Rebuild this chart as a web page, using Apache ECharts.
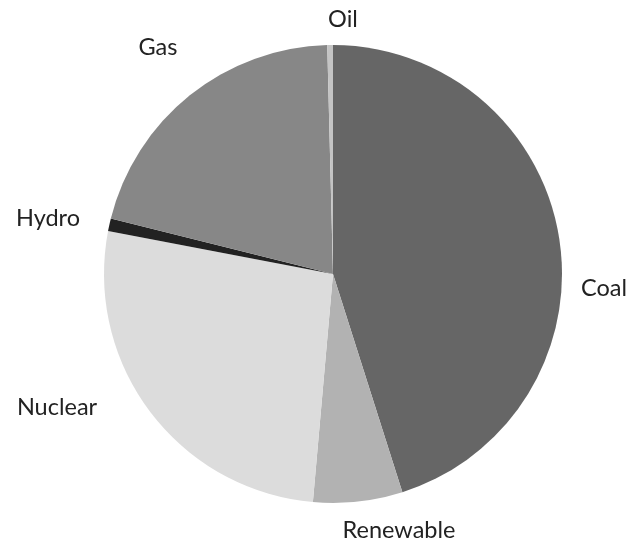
<!DOCTYPE html>
<html>
<head>
<meta charset="utf-8">
<script src="https://cdn.jsdelivr.net/npm/echarts@6/dist/echarts.min.js"></script>
<style>html,body{margin:0;padding:0;background:#fff;}#c{width:644px;height:541px;}</style>
</head>
<body>
<div id="c"></div>
<script>
var categories = ['Coal', 'Renewable', 'Nuclear', 'Hydro', 'Gas', 'Oil'];
var values = [45.1, 6.3, 26.6, 0.9, 20.7, 0.4];
var colors = ['#666666', '#b2b2b2', '#dcdcdc', '#222222', '#878787', '#c4c4c4'];
// label centres (layout only)
var labelPos = [[604, 288], [399, 530], [57, 407], [48, 218], [158, 47], [343, 19]];

var chart = echarts.init(document.getElementById('c'), null, {renderer: 'canvas'});
chart.setOption({
  animation: false,
  series: [{
    type: 'pie',
    center: [333, 274],
    radius: 229,
    startAngle: 90,
    clockwise: true,
    avoidLabelOverlap: false,
    data: categories.map(function (c, i) {
      return {name: c, value: values[i], itemStyle: {color: colors[i]}};
    }),
    label: {
      show: true,
      position: 'outside',
      formatter: '{b}',
      fontFamily: 'Lato',
      fontSize: 23.5,
      color: '#222'
    },
    labelLine: {show: false},
    labelLayout: function (p) {
      var pos = labelPos[p.dataIndex];
      return {x: pos[0], y: pos[1], align: 'center', verticalAlign: 'middle'};
    },
    emphasis: {disabled: true}
  }]
});
</script>
</body>
</html>
